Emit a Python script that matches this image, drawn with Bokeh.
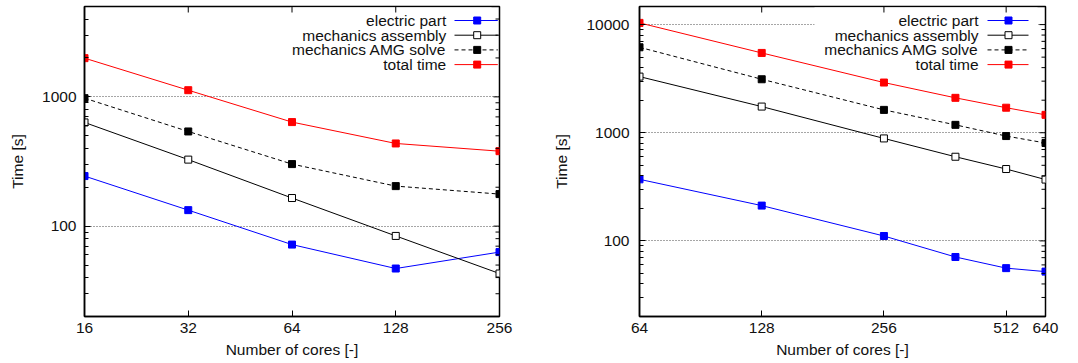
from bokeh.plotting import figure
from bokeh.layouts import row
from bokeh.models import (Label, Arrow, BoxAnnotation, FixedTicker,
                          NumeralTickFormatter, Range1d)
from bokeh.embed import file_html
from bokeh.resources import INLINE

# ---------------- data ----------------
left_cores = [16, 32, 64, 128, 256]
left_electric = [244, 133, 72, 47, 63]
left_assembly = [634, 327, 165, 84, 43]
left_amg = [977, 540, 302, 204, 177]
left_total = [1993, 1126, 638, 436, 380]

right_cores = [64, 128, 256, 384, 512, 640]
right_electric = [371, 212, 111, 71, 56, 52]
right_assembly = [3305, 1746, 886, 600, 462, 369]
right_amg = [6170, 3123, 1627, 1183, 932, 804]
right_total = [10370, 5470, 2912, 2103, 1704, 1464]

left_xticks = [16, 32, 64, 128, 256]
right_xticks = [64, 128, 256, 512, 640]
left_yticks = [100, 1000]
right_yticks = [100, 1000, 10000]

series_names = ["electric part", "mechanics assembly", "mechanics AMG solve", "total time"]
FONT = "Liberation Sans"
FS = "15.5px"


def minor_list(lo, hi):
    out = []
    d = 1
    while d <= hi:
        for m in range(2, 10):
            v = m * d
            if lo <= v <= hi:
                out.append(v)
        d *= 10
    return out


def make_plot(cores, vals, xr, yr, xticks, yticks, fw, fh, bl, br,
              lab_right, samp_l, samp_r, mark_x, box_left, ystand):
    p = figure(frame_width=fw, frame_height=fh, x_axis_type="log", y_axis_type="log",
               x_range=Range1d(*xr), y_range=Range1d(*yr),
               output_backend="svg", toolbar_location=None,
               min_border_left=bl, min_border_right=br,
               min_border_top=6, min_border_bottom=47)
    p.background_fill_color = "white"
    p.border_fill_color = "white"
    p.outline_line_color = "black"
    p.outline_line_width = 1.5

    yminor = minor_list(yr[0], yr[1])
    xt = FixedTicker(ticks=xticks, minor_ticks=[])
    yt = FixedTicker(ticks=yticks, minor_ticks=yminor)

    p.xgrid.visible = False
    p.ygrid.ticker = FixedTicker(ticks=yticks, minor_ticks=[])
    p.ygrid.grid_line_color = "black"
    p.ygrid.grid_line_alpha = 0.7
    p.ygrid.grid_line_dash = "1 2"
    p.ygrid.grid_line_width = 1

    for ax in (p.xaxis[0], p.yaxis[0]):
        ax.major_tick_in = 6
        ax.major_tick_out = 0
        ax.minor_tick_in = 4
        ax.minor_tick_out = 0
        ax.axis_line_width = 1.5
        ax.axis_line_color = "black"
        ax.major_tick_line_color = "black"
        ax.minor_tick_line_color = "black"
        ax.major_label_text_font = FONT
        ax.major_label_text_font_size = FS
        ax.major_label_text_color = "#111111"
        ax.axis_label_text_font = FONT
        ax.axis_label_text_font_size = FS
        ax.axis_label_text_font_style = "normal"
        ax.axis_label_text_color = "#111111"
        ax.formatter = NumeralTickFormatter(format="0")
    p.xaxis[0].ticker = xt
    p.yaxis[0].ticker = yt
    p.xaxis[0].axis_label = "Number of cores [-]"
    p.yaxis[0].axis_label = "Time [s]"
    p.xaxis[0].major_label_standoff = 6
    p.xaxis[0].axis_label_standoff = 5
    p.yaxis[0].major_label_standoff = ystand
    p.yaxis[0].axis_label_standoff = 13

    # helper mapping from frame pixel offsets to data coords
    def fx(px):
        return xr[0] * (xr[1] / xr[0]) ** (px / fw)

    def fy(py):
        return yr[1] * (yr[0] / yr[1]) ** (py / fh)

    # mirrored ticks on the top and right edges (gnuplot style)
    for t in xticks:
        if xr[0] < t < xr[1]:
            p.add_layout(Arrow(end=None, x_start=t, y_start=yr[1], x_end=t, y_end=fy(6),
                               line_color="black", line_width=1))
    for t in yticks:
        p.add_layout(Arrow(end=None, x_start=xr[1], y_start=t, x_end=fx(fw - 6), y_end=t,
                           line_color="black", line_width=1))
    for t in yminor:
        p.add_layout(Arrow(end=None, x_start=xr[1], y_start=t, x_end=fx(fw - 4), y_end=t,
                           line_color="black", line_width=1))

    # opaque key background (hides the grid behind the key)
    p.add_layout(BoxAnnotation(left=fx(box_left), right=fx(fw - 8), top=fy(1), bottom=fy(66),
                               fill_color="white", fill_alpha=1.0, line_color=None,
                               level="underlay"))

    styles = [
        dict(color="#0000ff", dash="solid", fill="#0000ff", mline="#0000ff"),
        dict(color="black", dash="solid", fill="white", mline="black"),
        dict(color="black", dash="4 3", fill="black", mline="black"),
        dict(color="#ff0000", dash="solid", fill="#ff0000", mline="#ff0000"),
    ]

    for v, st in zip(vals, styles):
        p.line(cores, v, line_color=st["color"], line_width=1, line_dash=st["dash"])
        p.scatter(cores, v, marker="square", size=7, fill_color=st["fill"],
                  line_color=st["mline"], line_width=1)

    # key (gnuplot style: text right-aligned, sample to the right)
    row_y = [14, 28.7, 43.4, 58.1]
    for name, st, ry in zip(series_names, styles, row_y):
        p.add_layout(Label(x=fx(lab_right), y=fy(ry), text=name, text_align="right",
                           text_baseline="middle", text_font=FONT, text_font_size=FS,
                           text_color="#111111"))
        p.add_layout(Arrow(end=None, x_start=fx(samp_l), y_start=fy(ry),
                           x_end=fx(samp_r), y_end=fy(ry), line_color=st["color"],
                           line_width=1, line_dash=st["dash"]))
        p.add_layout(BoxAnnotation(left=fx(mark_x - 3.5), right=fx(mark_x + 3.5),
                                   top=fy(ry - 3.5), bottom=fy(ry + 3.5),
                                   fill_color=st["fill"], fill_alpha=1.0,
                                   line_color=st["mline"], line_alpha=1.0, line_width=1,
                                   level="annotation"))
    return p


p1 = make_plot(left_cores, [left_electric, left_assembly, left_amg, left_total],
               (16, 256), (20, 5000), left_xticks, left_yticks,
               415, 310, 84, 40, 361.7, 370, 413.3, 392.7, 206, 8)
p2 = make_plot(right_cores, [right_electric, right_assembly, right_amg, right_total],
               (64, 640), (20, 14700), right_xticks, right_yticks,
               406, 310, 100, 33, 339, 348, 389, 369, 175, 10)

layout = row(p1, p2)
open("out.html", "w").write(file_html(layout, INLINE))
